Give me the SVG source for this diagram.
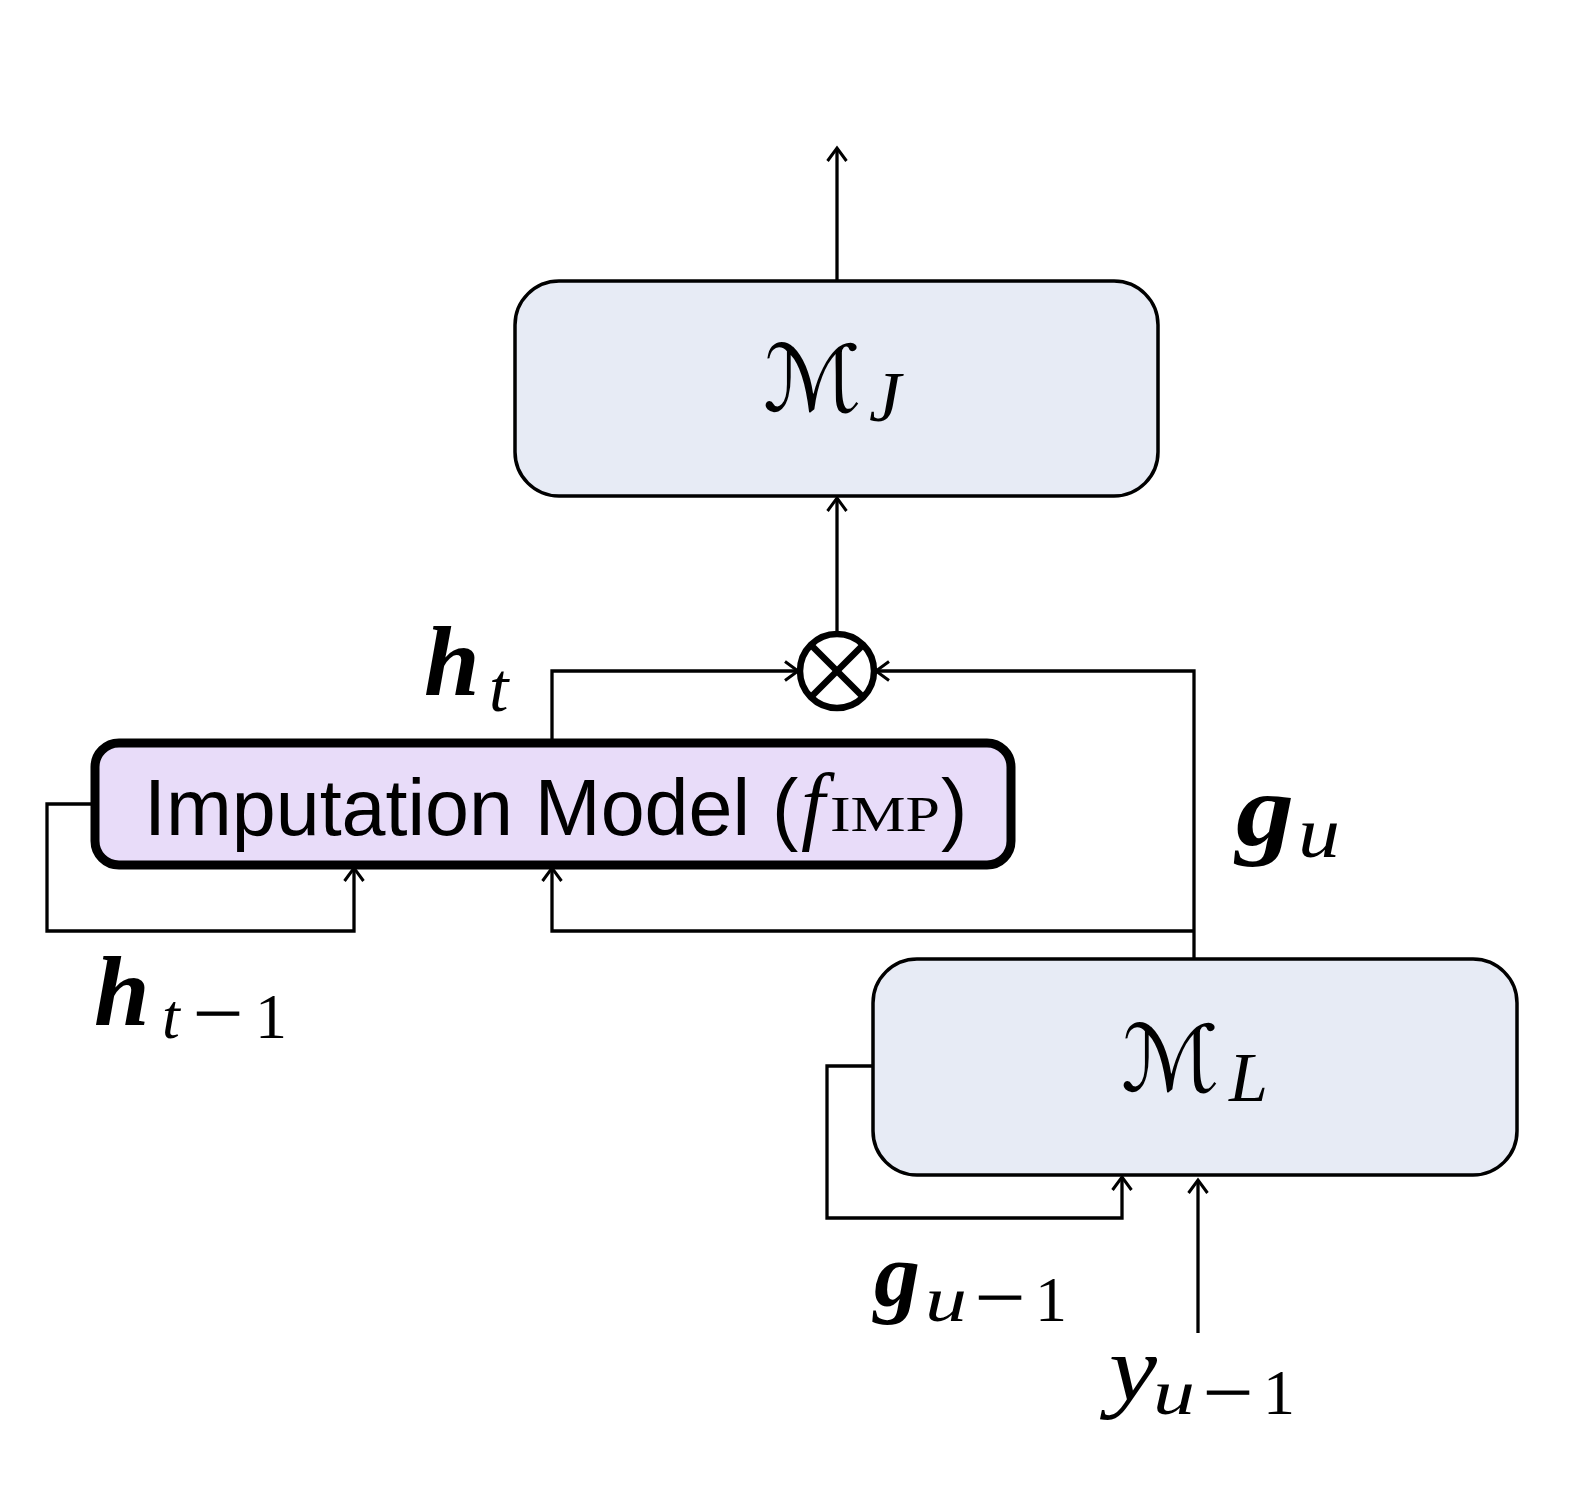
<svg xmlns="http://www.w3.org/2000/svg" width="1592" height="1498" viewBox="0 0 1592 1498">
<style>
.box{fill:#e7ebf5;stroke:#000;stroke-width:3.5}
.imp{fill:#e8dcf9;stroke:#000;stroke-width:9}
.ln{fill:none;stroke:#000;stroke-width:3.3}
.sans{font-family:"Liberation Sans",Arial,sans-serif;fill:#000}
.ser{font-family:"Liberation Serif","Times New Roman",serif;fill:#000}
.it{font-style:italic}
.bi{font-style:italic;font-weight:bold}
.cal{font-family:"DejaVu Serif","DejaVu Sans",serif;fill:#000}
.mn{font-family:"Liberation Serif","Times New Roman",serif;fill:#000;stroke:#000;stroke-width:0.9}
</style>
<defs>
<marker id="arr" markerUnits="userSpaceOnUse" markerWidth="20" markerHeight="24" refX="15" refY="12" orient="auto">
<path d="M2,2.5 L15,12 L2,21.5" fill="none" stroke="#000" stroke-width="3"/>
</marker>
</defs>
<rect width="1592" height="1498" fill="#fff"/>

<g id="connectors">
<line class="ln" x1="837" y1="281" x2="837" y2="148" marker-end="url(#arr)"/>
<line class="ln" x1="837" y1="633" x2="837" y2="498" marker-end="url(#arr)"/>
<polyline class="ln" points="552,740 552,671 798,671" marker-end="url(#arr)"/>
<polyline class="ln" points="1194,959 1194,671 876,671" marker-end="url(#arr)"/>
<polyline class="ln" points="94,804 47,804 47,931 354,931 354,868" marker-end="url(#arr)"/>
<polyline class="ln" points="1194,931 552,931 552,868" marker-end="url(#arr)"/>
<polyline class="ln" points="873,1066 827,1066 827,1218 1122,1218 1122,1177" marker-end="url(#arr)"/>
<line class="ln" x1="1198" y1="1333" x2="1198" y2="1180" marker-end="url(#arr)"/>
</g>

<g id="node-mj">
<rect class="box" x="515" y="281" width="643" height="215" rx="44"/>
<text class="cal it" x="763" y="411" font-size="92">ℳ</text>
<text class="ser it" x="869" y="421" font-size="72">J</text>
</g>

<g id="node-mult">
<circle cx="837" cy="671" r="37" fill="#fff" stroke="#000" stroke-width="6.5"/>
<line x1="811" y1="645" x2="863" y2="697" stroke="#000" stroke-width="6.5"/>
<line x1="863" y1="645" x2="811" y2="697" stroke="#000" stroke-width="6.5"/>
</g>

<g id="node-imp">
<rect class="imp" x="95" y="743" width="916" height="122" rx="24"/>
<text class="sans" x="144" y="835" font-size="79">Imputation Model (</text>
<text class="ser it" x="801" y="833" font-size="86">f</text>
<text class="ser" x="830" y="831" font-size="50" textLength="110" lengthAdjust="spacingAndGlyphs">IMP</text>
<text class="sans" x="941" y="835" font-size="79">)</text>
</g>

<g id="node-ml">
<rect class="box" x="873" y="959" width="644" height="216" rx="44"/>
<text class="cal it" x="1121" y="1091" font-size="92">ℳ</text>
<text class="ser it" x="1229" y="1101" font-size="70">L</text>
</g>

<g id="labels">
<text class="ser bi" x="424" y="695" font-size="100">h</text>
<text class="ser it" x="489" y="711" font-size="70">t</text>

<text class="ser bi" x="94" y="1025" font-size="100">h</text>
<text class="ser it" x="162" y="1038" font-size="64">t</text>
<text class="mn" x="193" y="1035" font-size="64" textLength="50" lengthAdjust="spacingAndGlyphs">−</text>
<text class="ser" x="255" y="1038" font-size="64">1</text>

<text class="ser bi" x="1236" y="845" font-size="104" textLength="58" lengthAdjust="spacingAndGlyphs">g</text>
<text class="ser it" x="1298" y="857" font-size="72" textLength="42" lengthAdjust="spacingAndGlyphs">u</text>

<text class="ser bi" x="874" y="1306" font-size="90" textLength="46" lengthAdjust="spacingAndGlyphs">g</text>
<text class="ser it" x="925" y="1321" font-size="64" textLength="42" lengthAdjust="spacingAndGlyphs">u</text>
<text class="mn" x="975" y="1319" font-size="64" textLength="50" lengthAdjust="spacingAndGlyphs">−</text>
<text class="ser" x="1035" y="1321" font-size="64">1</text>

<text class="ser it" x="1109" y="1400" font-size="94" textLength="48" lengthAdjust="spacingAndGlyphs">y</text>
<text class="ser it" x="1153" y="1414" font-size="64" textLength="42" lengthAdjust="spacingAndGlyphs">u</text>
<text class="mn" x="1203" y="1414" font-size="64" textLength="50" lengthAdjust="spacingAndGlyphs">−</text>
<text class="ser" x="1263" y="1414" font-size="64">1</text>
</g>
</svg>
